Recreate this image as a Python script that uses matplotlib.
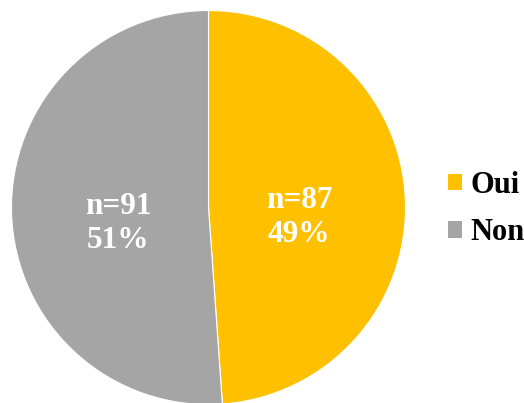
import matplotlib
matplotlib.use("Agg")
import matplotlib.pyplot as plt
from matplotlib.patches import Patch
import numpy as np

labels = ["Oui", "Non"]
counts = [87, 91]
colors = ["#FFC000", "#A5A5A5"]

plt.rcParams['font.family'] = ['Liberation Serif', 'DejaVu Serif']

W, H = 524, 403
fig = plt.figure(figsize=(W / 100, H / 100), dpi=100)
cx, cy, r = 208.5, 207.5, 197
ax = fig.add_axes([(cx - r) / W, (H - cy - r) / H, 2 * r / W, 2 * r / H])

total = sum(counts)
wedges, _ = ax.pie(counts, colors=colors, startangle=90, counterclock=False,
                   radius=1.0, wedgeprops=dict(edgecolor="white", linewidth=0.8))
ax.set_xlim(-1, 1)
ax.set_ylim(-1, 1)
ax.set_aspect("equal")
ax.axis("off")

for w, n in zip(wedges, counts):
    ang = np.deg2rad((w.theta1 + w.theta2) / 2)
    x = 0.46 * np.cos(ang)
    y = 0.46 * np.sin(ang) - 0.065
    pct = round(100 * n / total)
    ax.text(x, y, f"n={n}\n{pct}%", ha="center", va="center", color="white",
            fontsize=22.5, fontweight="bold", linespacing=1.22)

handles = [Patch(facecolor=c, edgecolor="none") for c in colors]
fig.legend(handles, labels, loc="center left", bbox_to_anchor=(448 / W, 1 - 209 / H),
           frameon=False, prop=dict(size=22, weight="bold"),
           handlelength=0.47, handleheight=0.47, handletextpad=0.25,
           labelspacing=0.6, borderpad=0, borderaxespad=0)

fig.savefig("out.png", dpi=100)
